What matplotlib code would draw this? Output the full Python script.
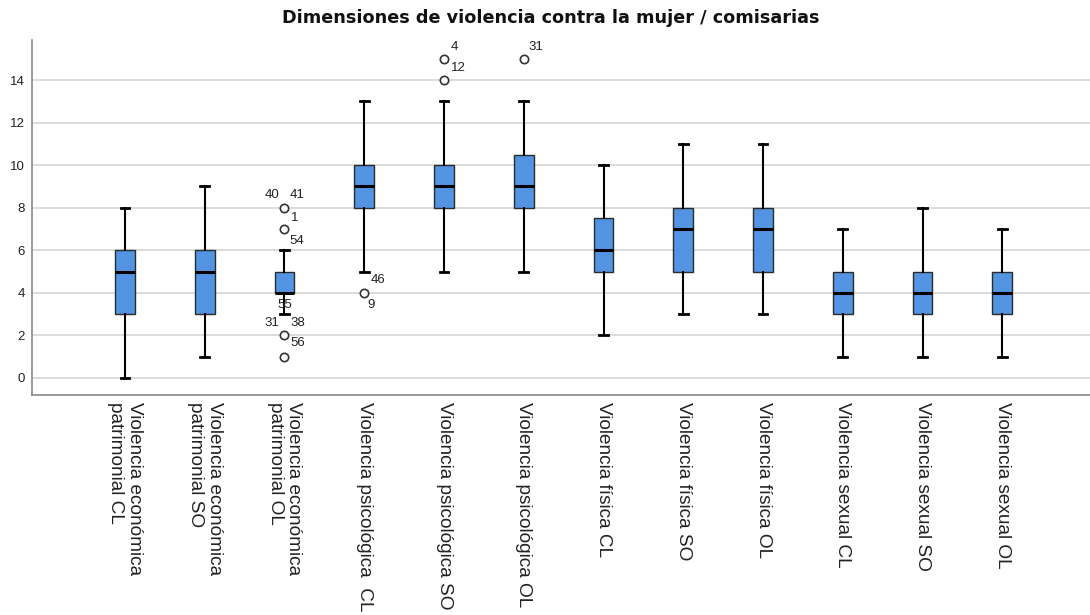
import matplotlib
matplotlib.use("Agg")
import matplotlib.pyplot as plt

plt.rcParams['font.family'] = ['Liberation Sans', 'DejaVu Sans']

# Box summary values
categories = [
    "Violencia económica\npatrimonial CL",
    "Violencia económica\npatrimonial SO",
    "Violencia económica\npatrimonial OL",
    "Violencia psicológica  CL",
    "Violencia psicológica SO",
    "Violencia psicológica OL",
    "Violencia física CL",
    "Violencia física SO",
    "Violencia física OL",
    "Violencia sexual CL",
    "Violencia sexual SO",
    "Violencia sexual OL",
]
whisker_low = [0, 1, 3, 5, 5, 5, 2, 3, 3, 1, 1, 1]
q1 = [3, 3, 4, 8, 8, 8, 5, 5, 5, 3, 3, 3]
median = [5, 5, 4, 9, 9, 9, 6, 7, 7, 4, 4, 4]
q3 = [6, 6, 5, 10, 10, 10.5, 7.5, 8, 8, 5, 5, 5]
whisker_high = [8, 9, 6, 13, 13, 13, 10, 11, 11, 7, 8, 7]
outliers = [[], [], [8, 7, 2, 1], [4], [15, 14], [15], [], [], [], [], [], []]

# case labels next to outliers: (box number, value, text)
label_box = [3, 3, 3, 3, 3, 3, 3, 3, 4, 4, 5, 5, 6]
label_value = [8, 8, 7, 7, 3, 2, 2, 2, 4, 4, 15, 15, 15]
label_text = ["40", "41", "1", "54", "55", "31", "38", "56", "46", "9", "4", "12", "31"]
label_offset = [(-12, 13), (13, 13), (10, 11), (12, -12), (0, 9), (-13, 12), (13, 12),
                (13, -8), (14, 13), (7, -12), (10, 12), (14, -9), (12, 12)]

fig = plt.figure(figsize=(10.9, 6.15), dpi=100)
ax = fig.add_axes([32 / 1090, 1 - 395 / 615, 1 - 32 / 1090, 355 / 615])

stats = []
for i in range(len(categories)):
    stats.append(dict(whislo=whisker_low[i], q1=q1[i], med=median[i], q3=q3[i],
                      whishi=whisker_high[i], fliers=outliers[i]))

positions = list(range(1, len(categories) + 1))
ax.bxp(stats, positions=positions, widths=0.25, patch_artist=True, showfliers=True,
       boxprops=dict(facecolor='#5294e2', edgecolor='#2b2b2b', linewidth=1.0),
       medianprops=dict(color='black', linewidth=2.2),
       whiskerprops=dict(color='black', linewidth=1.5),
       capprops=dict(color='black', linewidth=2.0),
       capwidths=0.11,
       flierprops=dict(marker='o', markerfacecolor='white', markeredgecolor='#333333',
                       markersize=6, markeredgewidth=1.2, linestyle='none'),
       zorder=3)

for b, v, t, off in zip(label_box, label_value, label_text, label_offset):
    ax.annotate(t, xy=(b, v), xytext=off, textcoords='offset pixels',
                ha='center', va='center', fontsize=9.5, color='#222222')

ax.set_xlim(-0.166, 13.1)
ax.set_ylim(-0.8, 15.88)
ax.set_yticks(range(0, 15, 2))
ax.yaxis.grid(True, color='#d4d4d4', linewidth=1.2, zorder=0)
ax.set_axisbelow(True)
ax.tick_params(axis='y', length=0, labelsize=9.5, pad=5, labelcolor='#222222')
ax.tick_params(axis='x', length=0, pad=5)
ax.set_xticks(positions)
ax.set_xticklabels(categories, rotation=270, fontsize=13.7, va='top', ha='center',
                   multialignment='left', color='#222222', linespacing=1.15)
for side in ['top', 'right']:
    ax.spines[side].set_visible(False)
for side in ['left', 'bottom']:
    ax.spines[side].set_color('#888888')
    ax.spines[side].set_linewidth(1.2)

fig.text(0.505, 1 - 18 / 615, "Dimensiones de violencia contra la mujer / comisarias",
         ha='center', va='center', fontsize=12.7, fontweight='bold', color='#111111',
         family='DejaVu Sans')

fig.savefig("out.png", dpi=100)
